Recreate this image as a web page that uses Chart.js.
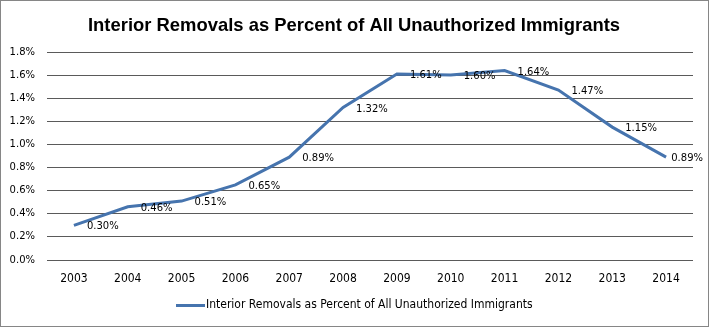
<!DOCTYPE html>
<html><head><meta charset="utf-8">
<script src="https://cdn.jsdelivr.net/npm/chart.js@4.4.1/dist/chart.umd.min.js"></script>
<style>html,body{margin:0;padding:0;background:#fff;overflow:hidden}#wrap{width:709px;height:327px;position:relative}</style>
</head><body><div id="wrap"><canvas id="c" width="709" height="327"></canvas></div>
<script>
const chartTitle = "Interior Removals as Percent of All Unauthorized Immigrants";
const seriesName = "Interior Removals as Percent of All Unauthorized Immigrants";
const years = ["2003","2004","2005","2006","2007","2008","2009","2010","2011","2012","2013","2014"];
const values = [0.30,0.46,0.51,0.65,0.89,1.32,1.61,1.60,1.64,1.47,1.15,0.89];
const yMin = 0, yMax = 1.8, yStep = 0.2;

const lineColor = '#4674AE';
const narrow = '"Liberation Sans Narrow","DejaVu Sans Condensed",sans-serif';

const decor = {
  id:'decor',
  afterDraw(chart){
    const ctx = chart.ctx;
    ctx.save();
    // border
    ctx.strokeStyle = '#868686'; ctx.lineWidth = 1;
    ctx.strokeRect(0.5,0.5,708,326);
    // title (compressed horizontally to fit)
    ctx.fillStyle = '#000';
    ctx.font = 'bold 19px "Liberation Sans","DejaVu Sans",sans-serif';
    ctx.textAlign = 'left'; ctx.textBaseline = 'alphabetic';
    const w = ctx.measureText(chartTitle).width;
    const target = 532;
    ctx.save();
    ctx.translate(88, 31);
    ctx.scale(target / w, 1);
    ctx.fillText(chartTitle, 0, 0);
    ctx.restore();
    // data labels
    const meta = chart.getDatasetMeta(0);
    ctx.font = '10px "DejaVu Sans",sans-serif';
    ctx.textAlign = 'left'; ctx.textBaseline = 'middle';
    meta.data.forEach((pt,i)=>{
      const txt = values[i].toFixed(2)+'%';
      const tw = ctx.measureText(txt).width;
      const x = Math.min(pt.x + 13, 703 - tw);
      ctx.fillText(txt, x, pt.y+1.5);
    });
    // legend
    ctx.strokeStyle = lineColor; ctx.lineWidth = 3;
    ctx.beginPath(); ctx.moveTo(176,305.5); ctx.lineTo(205,305.5); ctx.stroke();
    ctx.font = '12px ' + narrow;
    ctx.fillStyle = '#000';
    ctx.fillText(seriesName, 206, 305);
    ctx.restore();
  }
};

new Chart(document.getElementById('c'), {
  type:'line',
  data:{labels:years, datasets:[{label:seriesName, data:values, borderColor:lineColor, backgroundColor:lineColor, borderWidth:3, pointRadius:0, tension:0, fill:false}]},
  options:{
    responsive:false, animation:false, devicePixelRatio:1,
    layout:{padding:{left:0,right:16,top:52,bottom:0}},
    plugins:{legend:{display:false}, title:{display:false}, tooltip:{enabled:false}},
    scales:{
      x:{offset:true, grid:{display:false, drawTicks:false}, border:{display:false},
         ticks:{color:'#000', font:{family:narrow,size:12}, padding:12, maxRotation:0},
         afterFit(s){ s.height = 67; }},
      y:{min:yMin, max:yMax, grid:{color:'#5a5a5a', drawTicks:false}, border:{display:false},
         ticks:{stepSize:yStep, color:'#000', font:{family:'"DejaVu Sans",sans-serif',size:10}, padding:12,
           callback:v=>v.toFixed(1)+'%'},
         afterFit(s){ s.width = 47; }}
    }
  },
  plugins:[decor]
});
</script></body></html>
